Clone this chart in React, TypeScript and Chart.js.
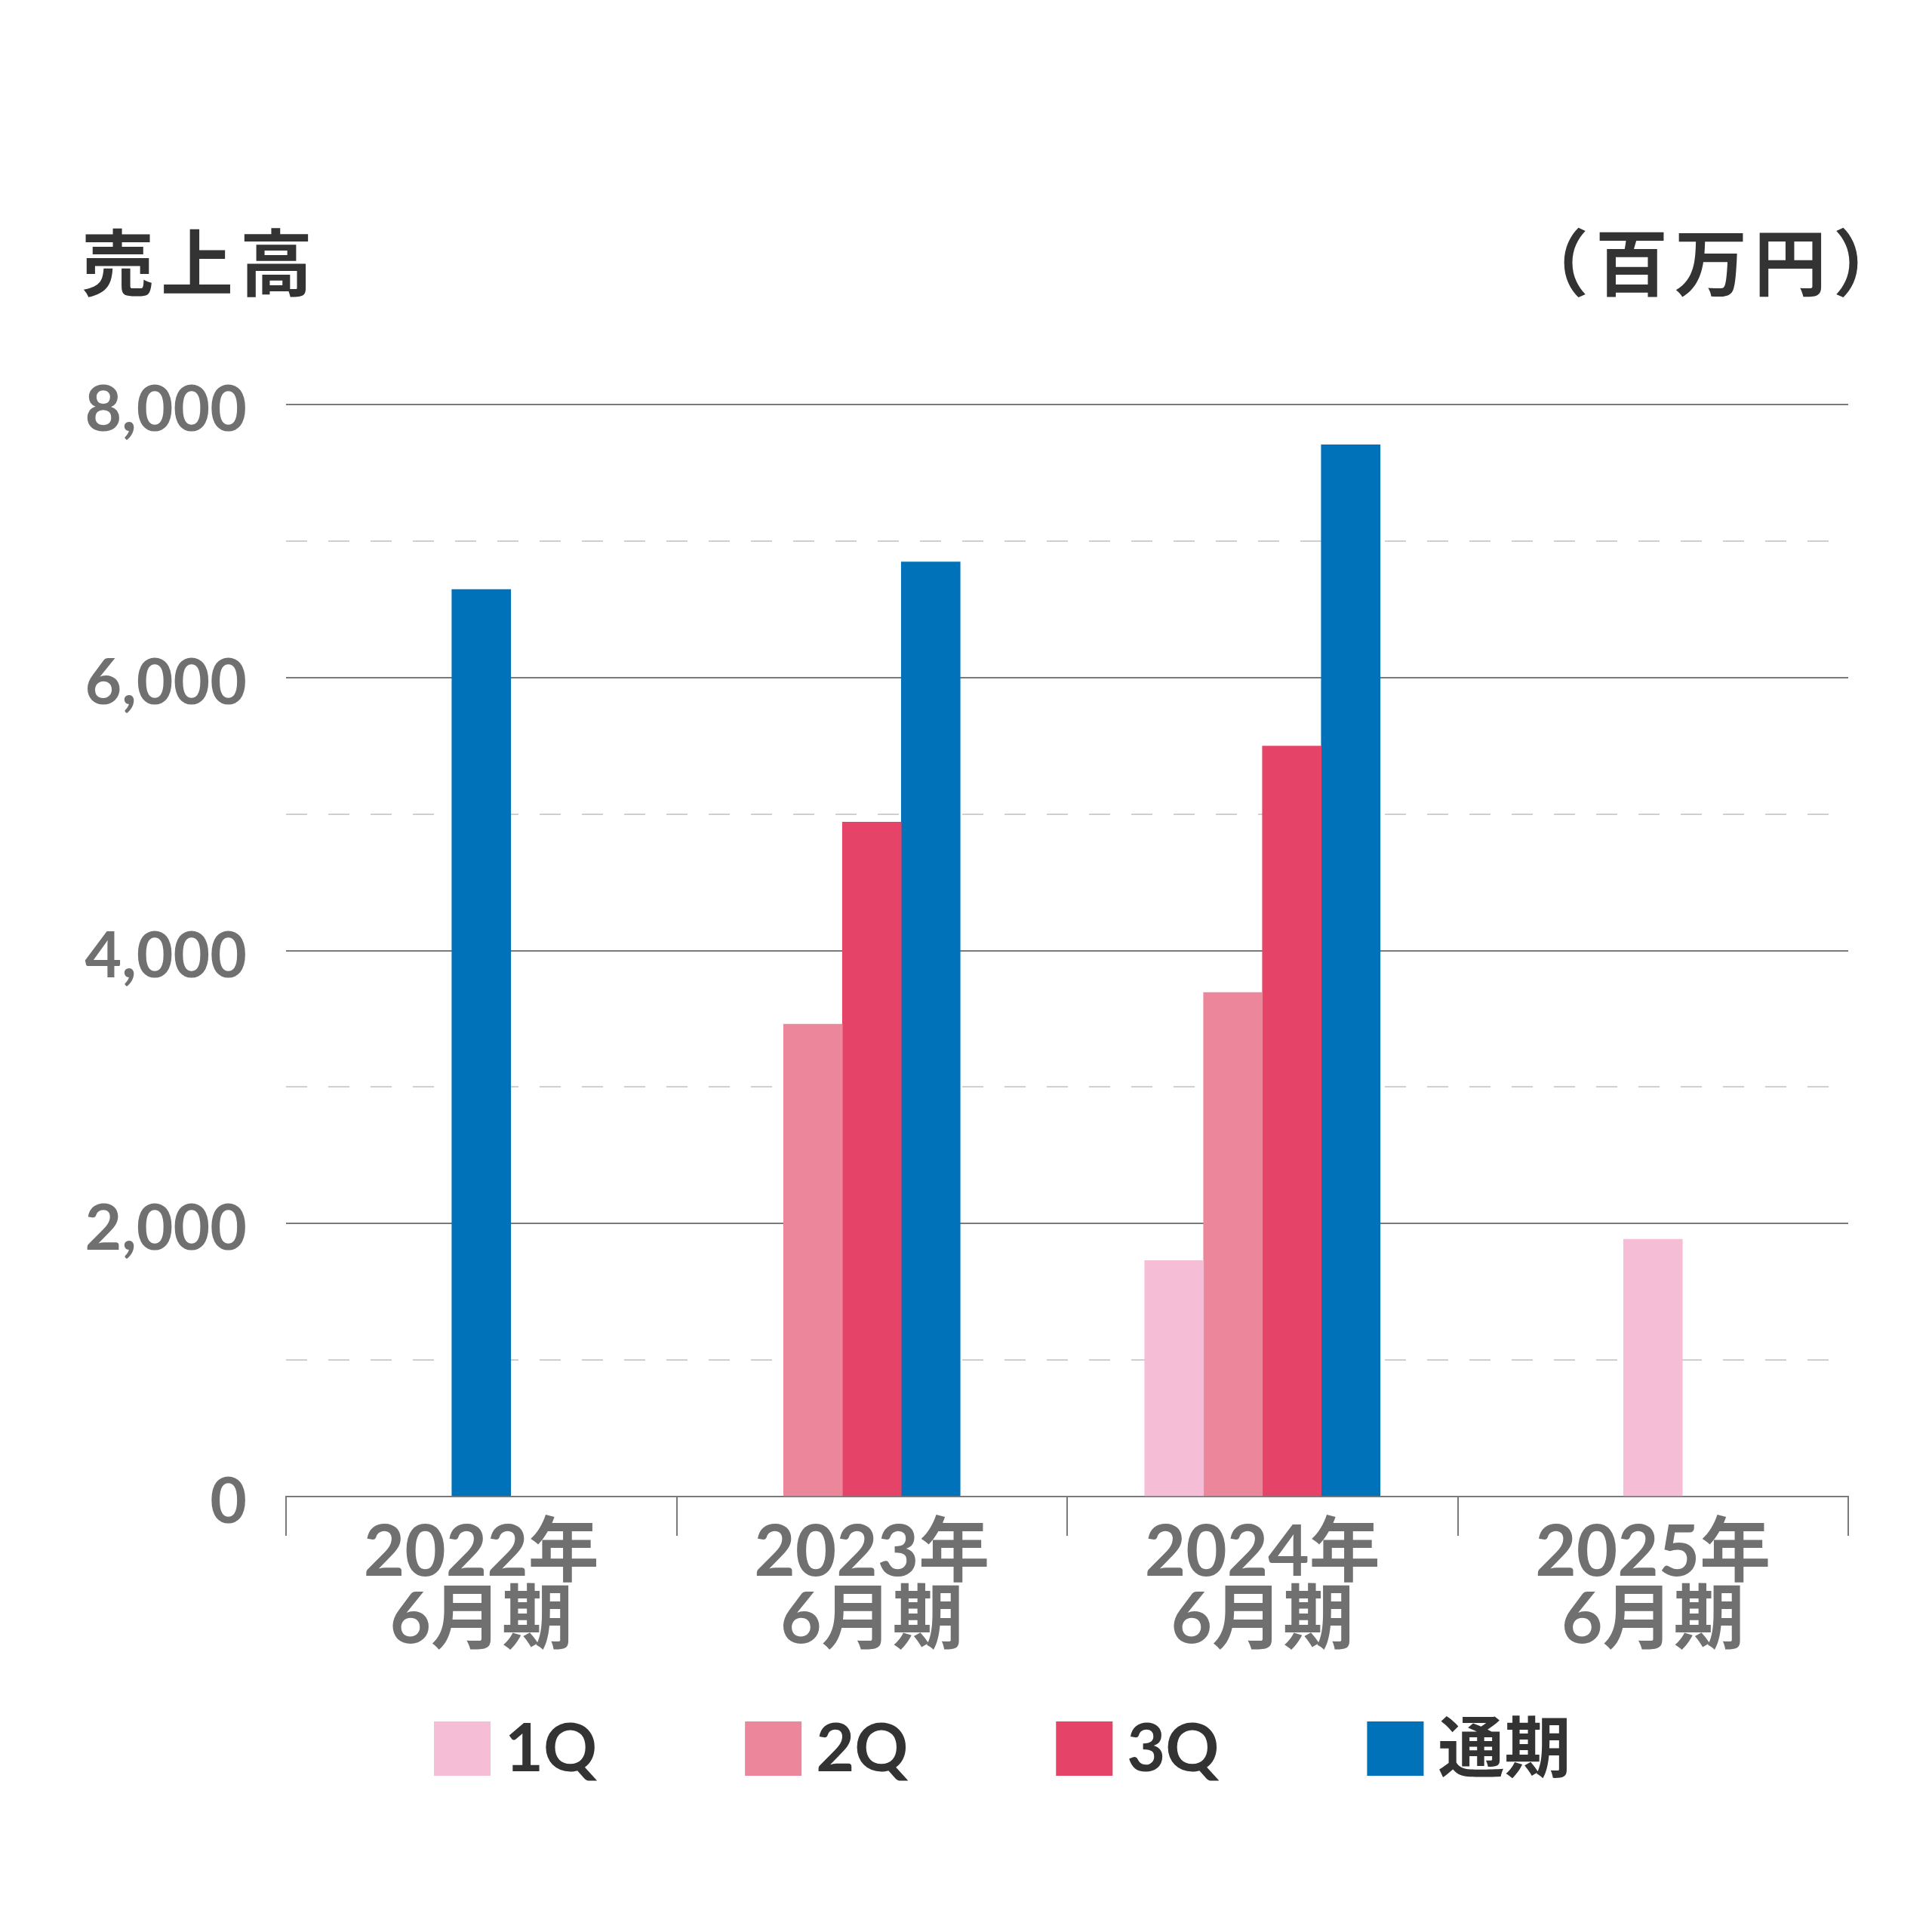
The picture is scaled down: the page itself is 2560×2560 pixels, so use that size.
import React, { useEffect, useRef } from 'react';
import { Chart, registerables } from 'chart.js';

Chart.register(...registerables);

const FONT = "Lato, 'Noto Sans CJK JP', sans-serif";

const categories = [
  ['2022年', '6月期'],
  ['2023年', '6月期'],
  ['2024年', '6月期'],
  ['2025年', '6月期'],
];
const seriesNames = ['1Q', '2Q', '3Q', '通期'];
const q1Values = [null, null, 1728, 1885];
const q2Values = [null, 3460, 3693, null];
const q3Values = [null, 4941, 5498, null];
const fullYearValues = [6645, 6847, 7705, null];
const seriesColors = ['#F5BDD6', '#EC879B', '#E54468', '#0072BA'];
const yMax = 8000;
const yStep = 1000;
const yLabelStep = 2000;
const titleText = '売上高';
const unitText = '（百万円）';

const headerLegendPlugin = {
  id: 'headerLegend',
  afterDraw(chart: any) {
    const ctx = chart.ctx;
    const area = chart.chartArea;
    ctx.save();
    ctx.fillStyle = '#333333';
    ctx.font = `bold 96px ${FONT}`;
    ctx.textBaseline = 'middle';
    ctx.textAlign = 'left';
    (ctx as any).letterSpacing = '9px';
    ctx.fillText(titleText, 108, 353);
    ctx.fillText(unitText, area.right - 440, 353);
    (ctx as any).letterSpacing = '0px';

    ctx.font = `bold 88px ${FONT}`;
    const boxW = 75;
    const boxH = 72;
    const boxTop = 2281;
    let x = 575;
    chart.data.datasets.forEach((ds: any) => {
      ctx.fillStyle = ds.backgroundColor;
      ctx.fillRect(x, boxTop, boxW, boxH);
      ctx.fillStyle = '#333333';
      ctx.fillText(ds.label, x + 94, boxTop + boxH / 2 + 2);
      x += 94 + ctx.measureText(ds.label).width + 196;
    });
    ctx.restore();
  },
};

export default function App() {
  const canvasRef = useRef<HTMLCanvasElement | null>(null);

  useEffect(() => {
    document.body.style.margin = '0';
    const canvas = canvasRef.current;
    if (!canvas) return;
    const valueSets = [q1Values, q2Values, q3Values, fullYearValues];
    const chart = new Chart(canvas, {
      type: 'bar',
      data: {
        labels: categories,
        datasets: seriesNames.map((name, i) => ({
          label: name,
          data: valueSets[i],
          backgroundColor: seriesColors[i],
          borderWidth: 0,
          barThickness: 78,
          skipNull: true,
        })),
      },
      options: {
        responsive: false,
        animation: false,
        devicePixelRatio: 1,
        events: [],
        layout: { padding: { top: 536, right: 111, bottom: 317, left: 0 } },
        plugins: {
          legend: { display: false },
          tooltip: { enabled: false },
          title: { display: false },
        },
        scales: {
          x: {
            grid: {
              display: true,
              drawOnChartArea: false,
              drawTicks: true,
              tickLength: 52,
              color: '#7a7a7a',
              lineWidth: 2,
              tickColor: '#7a7a7a',
              tickWidth: 2,
              offset: true,
            },
            border: { display: true, color: '#7a7a7a', width: 2 },
            ticks: {
              color: '#707070',
              font: { family: FONT, size: 94, weight: 'bold', lineHeight: 0.94 },
              padding: -21,
              maxRotation: 0,
              autoSkip: false,
            },
            afterFit: (s: any) => {
              s.height = 260;
            },
          },
          y: {
            min: 0,
            max: yMax,
            ticks: {
              stepSize: yStep,
              padding: 52,
              labelOffset: 8,
              color: '#707070',
              font: { family: FONT, size: 84, weight: 'bold' },
              callback: (v: any) => (Number(v) % yLabelStep === 0 ? Number(v).toLocaleString('en-US') : ''),
            },
            grid: {
              drawTicks: false,
              lineWidth: 2,
              color: (c: any) => (c.tick && c.tick.value % yLabelStep !== 0 ? '#cfcfcf' : '#7a7a7a'),
            },
            border: {
              display: false,
              dash: (c: any) => (c.tick && c.tick.value % yLabelStep !== 0 ? [28, 28] : []),
            },
            afterFit: (s: any) => {
              s.width = 379;
            },
          },
        },
      },
      plugins: [headerLegendPlugin],
    } as any);
    return () => chart.destroy();
  }, []);

  return (
    <div style={{ width: 2560, height: 2560, background: '#ffffff' }}>
      <canvas ref={canvasRef} width={2560} height={2560} style={{ width: 2560, height: 2560, display: 'block' }} />
    </div>
  );
}
